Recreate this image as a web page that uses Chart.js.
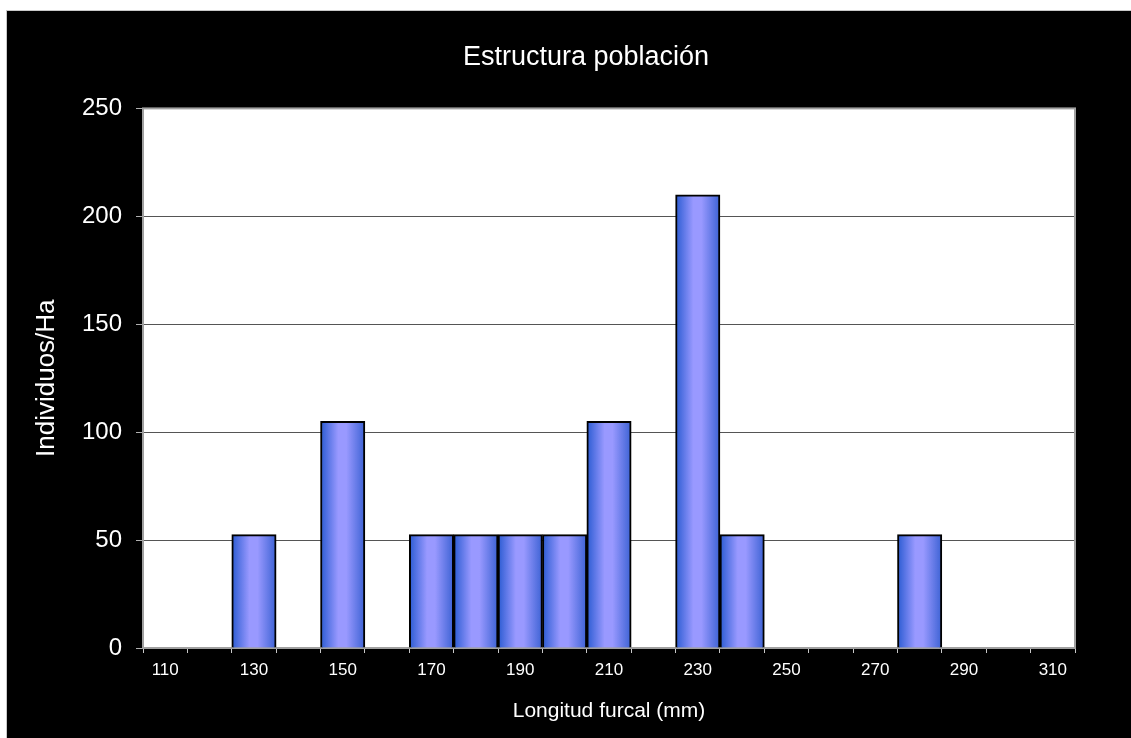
<!DOCTYPE html>
<html lang="es">
<head>
<meta charset="utf-8">
<title>Estructura población</title>
<script src="https://cdn.jsdelivr.net/npm/chart.js@4/dist/chart.umd.min.js"></script>
<style>
    html, body { margin: 0; padding: 0; background: #ffffff; }
    #marco {
        position: absolute;
        left: 6px;
        top: 10px;
        width: 1124px;
        height: 727px;
        background: #000000;
        border-left: 1px solid #c8c8c8;
        border-top: 1px solid #c8c8c8;
    }
    #graficoEstructura { display: block; }
</style>
</head>
<body>
<div id="marco">
    <canvas id="graficoEstructura" width="1124" height="727"></canvas>
</div>
<script>
// Clases de longitud furcal (mm)
const clases = ['110', '120', '130', '140', '150', '160', '170', '180', '190', '200', '210',
                '220', '230', '240', '250', '260', '270', '280', '290', '300', '310'];

// Individuos por hectárea en cada clase
const individuosHa = [0, 0, 52.5, 0, 105, 0, 52.5, 52.5, 52.5, 52.5, 105,
                      0, 210, 52.5, 0, 0, 0, 52.5, 0, 0, 0];

const ejeY = { min: 0, max: 250, paso: 50 };

const fuente = "'Liberation Sans', Arial, sans-serif";

// Fondo blanco y marco gris del área de trazado
const fondoArea = {
    id: 'fondoArea',
    afterLayout(chart) {
        // el título del original queda algo desplazado a la derecha
        if (chart.titleBlock) chart.titleBlock.left = 90;
    },
    beforeDraw(chart) {
        const { ctx, chartArea: a } = chart;
        ctx.save();
        ctx.fillStyle = '#ffffff';
        ctx.fillRect(a.left, a.top, a.right - a.left, a.bottom - a.top);
        ctx.restore();
    },
    beforeDatasetsDraw(chart) {
        const { ctx, chartArea: a } = chart;
        ctx.save();
        ctx.strokeStyle = '#a0a0a0';
        ctx.lineWidth = 2;
        ctx.strokeRect(a.left, a.top, a.right - a.left, a.bottom - a.top);
        ctx.restore();
    }
};

// Degradado horizontal de cada barra
function degradadoBarra(context) {
    const chart = context.chart;
    const escala = chart.scales.x;
    if (context.type !== 'data' || !escala || !chart.chartArea) return '#8f94f5';
    const centro = escala.getPixelForValue(context.dataIndex);
    const ancho = escala.width / clases.length;
    const g = chart.ctx.createLinearGradient(centro - ancho / 2, 0, centro + ancho / 2, 0);
    g.addColorStop(0, '#2a5bd2');
    g.addColorStop(0.4, '#9999ff');
    g.addColorStop(0.58, '#9999ff');
    g.addColorStop(1, '#3c62d4');
    return g;
}

const ctx = document.getElementById('graficoEstructura');

new Chart(ctx, {
    type: 'bar',
    data: {
        labels: clases,
        datasets: [{
            label: 'Individuos/Ha',
            data: individuosHa,
            backgroundColor: degradadoBarra,
            borderColor: '#000000',
            borderWidth: 2,
            barPercentage: 1,
            categoryPercentage: 1
        }]
    },
    options: {
        responsive: false,
        animation: false,
        layout: { padding: { left: 0, top: 0, right: 56, bottom: 0 } },
        plugins: {
            legend: { display: false },
            tooltip: { enabled: false },
            title: {
                display: true,
                text: 'Estructura población',
                color: '#ffffff',
                font: { family: fuente, size: 27, weight: 'normal' },
                padding: { top: 30, bottom: 35 }
            }
        },
        scales: {
            x: {
                offset: true,
                border: { display: false },
                grid: {
                    offset: true,
                    drawOnChartArea: false,
                    drawTicks: true,
                    tickLength: 5,
                    tickColor: '#c8c8c8',
                    color: '#c8c8c8'
                },
                ticks: {
                    autoSkip: false,
                    maxRotation: 0,
                    padding: 7,
                    color: '#ffffff',
                    font: { family: fuente, size: 17 },
                    callback: function(valor, indice) {
                        return indice % 2 === 0 ? clases[indice] : '';
                    }
                },
                title: {
                    display: true,
                    text: 'Longitud furcal (mm)',
                    color: '#ffffff',
                    font: { family: fuente, size: 21 },
                    padding: { top: 0, bottom: 14 }
                },
                afterFit(escala) { escala.height = 90; }
            },
            y: {
                min: ejeY.min,
                max: ejeY.max,
                border: { display: false },
                grid: {
                    color: function(c) {
                        const v = c.tick ? c.tick.value : 0;
                        return (v === ejeY.min || v === ejeY.max) ? 'rgba(0,0,0,0)' : '#555555';
                    },
                    borderDash: [1, 1],
                    tickBorderDash: [],
                    tickColor: '#b0b0b0',
                    tickLength: 7,
                    lineWidth: 1
                },
                ticks: {
                    stepSize: ejeY.paso,
                    padding: 14,
                    color: '#ffffff',
                    font: { family: fuente, size: 24 }
                },
                title: {
                    display: true,
                    text: 'Individuos/Ha',
                    color: '#ffffff',
                    font: { family: fuente, size: 26 },
                    padding: { top: 24, bottom: 0 }
                },
                afterFit(escala) { escala.width = 136; }
            }
        }
    },
    plugins: [fondoArea]
});
</script>
</body>
</html>
